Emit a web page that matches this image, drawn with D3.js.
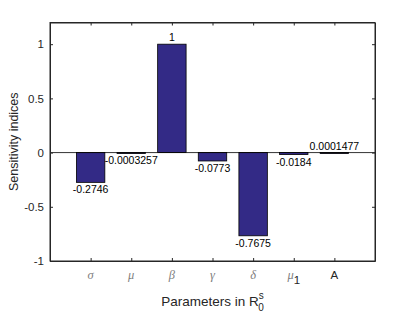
<!DOCTYPE html>
<html>
<head>
<meta charset="utf-8">
<script src="https://cdn.jsdelivr.net/npm/d3@7"></script>
<style>
  body { margin: 0; background: #fff; }
  svg { display: block; font-family: "Liberation Sans", Arial, sans-serif; }
</style>
</head>
<body>
<div id="viz"></div>
<script>
const width = 396;
const height = 316;
const margin = {top: 22.5, right: 21, bottom: 55, left: 50};

// data
const categories = ['σ', 'μ', 'β', 'γ', 'δ', 'μ1', 'A'];
const values = [-0.2746, -0.0003257, 1, -0.0773, -0.7675, -0.0184, 0.0001477];
const valueLabels = ['-0.2746', '-0.0003257', '1', '-0.0773', '-0.7675', '-0.0184', '0.0001477'];
const yTicks = [-1, -0.5, 0, 0.5, 1];

const barColor = '#332a86';
const axisColor = '#262626';

const xScale = d3.scaleLinear()
  .domain([0, categories.length + 1])
  .range([margin.left, width - margin.right]);

const yScale = d3.scaleLinear()
  .domain([-1, 1.2])
  .range([height - margin.bottom, margin.top]);

const svg = d3.select('#viz')
  .append('svg')
    .attr('width', width)
    .attr('height', height)
    .attr('viewBox', [0, 0, width, height]);

const barHalf = 0.35;

// bars
svg.append('g')
  .selectAll('rect')
  .data(values)
  .join('rect')
    .attr('x', (d, i) => xScale(i + 1 - barHalf))
    .attr('width', xScale(1 + barHalf) - xScale(1 - barHalf))
    .attr('y', d => yScale(Math.max(0, d)))
    .attr('height', d => Math.max(1, Math.abs(yScale(d) - yScale(0))))
    .attr('fill', barColor)
    .attr('stroke', '#000')
    .attr('stroke-width', 0.8);

// baseline
svg.append('line')
  .attr('x1', xScale(0)).attr('x2', xScale(categories.length + 1))
  .attr('y1', yScale(0)).attr('y2', yScale(0))
  .attr('stroke', '#000')
  .attr('stroke-width', 0.8);

// value labels
svg.append('g')
  .selectAll('text')
  .data(values)
  .join('text')
    .attr('x', (d, i) => xScale(i + 1))
    .attr('y', d => d >= 0 ? yScale(d) - 3 : yScale(d) + 11)
    .attr('text-anchor', 'middle')
    .attr('font-size', 10.5)
    .attr('fill', '#000')
    .text((d, i) => valueLabels[i]);

// axes
svg.append('g')
  .attr('transform', `translate(0, ${yScale(-1)})`)
  .call(d3.axisBottom(xScale)
    .tickValues(d3.range(1, categories.length + 1))
    .tickSize(-3)
    .tickSizeOuter(0)
    .tickFormat(''));

svg.append('g')
  .attr('transform', `translate(0, ${yScale(1.2)})`)
  .call(d3.axisTop(xScale)
    .tickValues(d3.range(1, categories.length + 1))
    .tickSize(-3)
    .tickSizeOuter(0)
    .tickFormat(''));

svg.append('g')
  .attr('transform', `translate(${xScale(0)}, 0)`)
  .call(d3.axisLeft(yScale)
    .tickValues(yTicks)
    .tickSize(-3)
    .tickSizeOuter(0)
    .tickPadding(6)
    .tickFormat(d => String(d)))
  .call(g => g.selectAll('text')
    .attr('font-size', 11.5)
    .attr('font-family', '"Liberation Sans", Arial, sans-serif')
    .attr('fill', axisColor));

svg.append('g')
  .attr('transform', `translate(${xScale(categories.length + 1)}, 0)`)
  .call(d3.axisRight(yScale)
    .tickValues(yTicks)
    .tickSize(-3)
    .tickSizeOuter(0)
    .tickFormat(''));

svg.selectAll('.domain').attr('stroke', axisColor);
svg.selectAll('.tick line').attr('stroke', axisColor);

// box
svg.append('rect')
  .attr('x', xScale(0))
  .attr('y', yScale(1.2))
  .attr('width', xScale(categories.length + 1) - xScale(0))
  .attr('height', yScale(-1) - yScale(1.2))
  .attr('fill', 'none')
  .attr('stroke', axisColor)
  .attr('stroke-width', 1);

// category tick labels
const catLabels = svg.append('g')
  .selectAll('text')
  .data(categories)
  .join('text')
    .attr('x', (d, i) => xScale(i + 1))
    .attr('y', yScale(-1) + 18)
    .attr('text-anchor', 'middle');

catLabels.each(function (d) {
  const t = d3.select(this);
  if (d === 'A') {
    t.attr('font-size', 11.5).attr('fill', axisColor).text('A');
  } else if (d === 'μ1') {
    t.append('tspan')
      .attr('font-family', '"Liberation Serif", "Times New Roman", serif')
      .attr('font-style', 'italic')
      .attr('font-size', 12.5)
      .attr('fill', '#808080')
      .text('μ');
    t.append('tspan')
      .attr('font-size', 11.5)
      .attr('dy', 5)
      .attr('fill', axisColor)
      .text('1');
  } else {
    t.attr('font-family', '"Liberation Serif", "Times New Roman", serif')
      .attr('font-style', 'italic')
      .attr('font-size', 12.5)
      .attr('fill', '#808080')
      .text(d);
  }
});

// axis titles
const xTitle = svg.append('text')
  .attr('x', (xScale(0) + xScale(categories.length + 1)) / 2)
  .attr('y', 306)
  .attr('text-anchor', 'middle')
  .attr('font-size', 13.5)
  .attr('fill', axisColor);
xTitle.append('tspan').text('Parameters in R');
xTitle.append('tspan').attr('font-size', 10).attr('dy', -7).text('s');
xTitle.append('tspan').attr('font-size', 10).attr('dx', -5.5).attr('dy', 12).text('0');

svg.append('text')
  .attr('transform', `translate(18, ${(yScale(-1) + yScale(1.2)) / 2}) rotate(-90)`)
  .attr('text-anchor', 'middle')
  .attr('font-size', 12.5)
  .attr('fill', axisColor)
  .text('Sensitivity indices');
</script>
</body>
</html>
